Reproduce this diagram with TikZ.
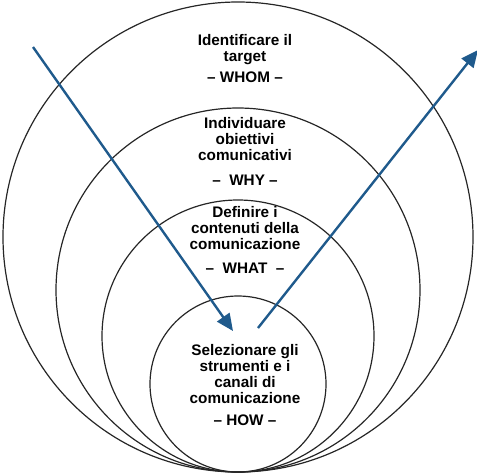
\documentclass[tikz,border=0pt]{standalone}
\usepackage{fontspec}
\setmainfont{Liberation Sans}
\usetikzlibrary{arrows.meta}
\definecolor{arrowblue}{HTML}{1F5A8C}
\begin{document}
\begin{tikzpicture}[x=1pt,y=-1pt,
  ring/.style={draw=black!85,line width=1.2pt},
  flow/.style={draw=arrowblue,line width=2.4pt,-{Triangle[length=17pt,width=15pt]}},
  lbl/.style={align=center,font=\fontsize{15.3}{16}\selectfont\bfseries,inner sep=0pt}]
\useasboundingbox (0,0) rectangle (477,475);
% nested rings, all touching at the bottom
\node[ring,circle,minimum size=470pt,inner sep=0pt] (c1) at (238,237) {};
\node[ring,circle,minimum size=364pt,inner sep=0pt] (c2) at (238,290) {};
\node[ring,circle,minimum size=272pt,inner sep=0pt] (c3) at (238,336) {};
\node[ring,circle,minimum size=176pt,inner sep=0pt] (c4) at (238,384) {};
% labels
\node[lbl] (t1) at (245,50) {Identificare il\\target};
\node[lbl] (w1) at (245,77) {– WHOM –};
\node[lbl] (t2) at (245,139) {Individuare\\obiettivi\\comunicativi};
\node[lbl] (w2) at (245,180) {–\ \ WHY –};
\node[lbl] (t3) at (245,228) {Definire i\\contenuti della\\comunicazione};
\node[lbl] (w3) at (245,268) {–\ \ WHAT\ \ –};
\node[lbl] (t4) at (245,374) {Selezionare gli\\strumenti e i\\canali di\\comunicazione};
\node[lbl] (w4) at (245,420) {– HOW –};
% arrows
\coordinate (a1) at (33,47);
\coordinate (a2) at (233,331);
\coordinate (b1) at (258,328);
\coordinate (b2) at (478,50);
\draw[flow] (a1) -- (a2);
\draw[flow] (b1) -- (b2);
\end{tikzpicture}
\end{document}
